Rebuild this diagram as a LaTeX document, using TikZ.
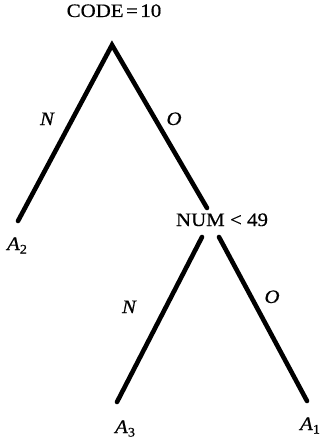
\documentclass[tikz,border=0pt]{standalone}
\usepackage{fontspec}
\setmainfont[FakeStretch=1.1,FakeBold=0.6]{Liberation Serif}
\newcommand{\leafsub}[1]{\raisebox{-3.5pt}{\fontsize{13}{13}\selectfont #1}}
\begin{document}
\begin{tikzpicture}[x=1pt,y=-1pt,
  branch/.style={line width=4.6pt, line cap=round, line join=miter},
  lbl/.style={inner sep=0pt, anchor=base, font=\fontsize{19}{19}\selectfont},
  edgelbl/.style={inner sep=0pt, anchor=base, font=\fontsize{19}{19}\selectfont\itshape}]
\useasboundingbox (0,0) rectangle (322,441);
% test nodes
\node[lbl] (root) at (114,17) {CODE\kern2.5pt=\kern2.5pt10};
\node[lbl] (num) at (222,226) {NUM\;<\;49};
% branch points
\coordinate (apex) at (112,45);
\coordinate (a2end) at (18,221);
\coordinate (numtop) at (207,208);
\coordinate (numL) at (202,237);
\coordinate (numR) at (219,237);
\coordinate (a3end) at (117,402);
\coordinate (a1end) at (307,401);
% branches
\draw[branch] (a2end) -- (apex) -- (numtop);
\draw[branch] (numL) -- (a3end);
\draw[branch] (numR) -- (a1end);
% leaves
\node[lbl] (a2) at (17,250) {\textit{A}\leafsub{2}};
\node[lbl] (a3) at (125,433) {\textit{A}\leafsub{3}};
\node[lbl] (a1) at (310,430) {\textit{A}\leafsub{1}};
% edge labels
\node[edgelbl] (n1) at (47,125) {N};
\node[edgelbl] (o1) at (174,125) {O};
\node[edgelbl] (n2) at (129,313) {N};
\node[edgelbl] (o2) at (272,303) {O};
\end{tikzpicture}
\end{document}
